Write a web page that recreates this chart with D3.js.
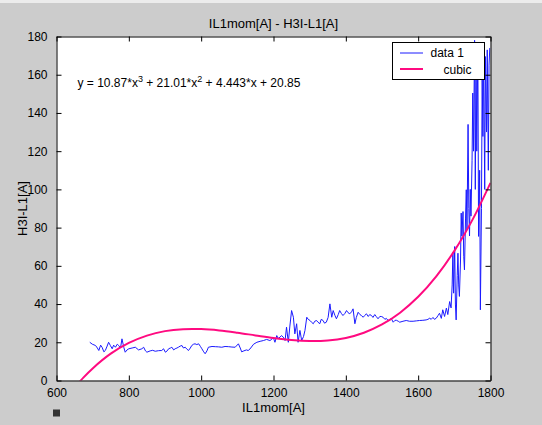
<!DOCTYPE html>
<html><head><meta charset="utf-8">
<script src="https://cdn.jsdelivr.net/npm/d3@7"></script>
<style>
html,body{margin:0;padding:0;background:#cccccc;}
svg{display:block;}
text{font-family:"Liberation Sans",Arial,Helvetica,sans-serif;fill:#000;}
</style></head>
<body>
<script>
// ---- data ----
const dataX = [692,699,708,713,717,722,726,731,735,740,744,749,754,758,763,768,772,777,781,786,790,795,800,809,818,827,836,841,846,850,859,866,873,882,891,896,901,906,910,915,919,924,928,933,937,942,947,951,956,960,965,970,974,979,983,988,993,998,1002,1007,1011,1016,1020,1030,1039,1048,1057,1066,1076,1085,1094,1103,1108,1112,1118,1125,1130,1135,1145,1154,1163,1172,1181,1190,1195,1199,1204,1209,1213,1218,1222,1227,1232,1236,1241,1245,1250,1255,1259,1264,1268,1273,1278,1283,1287,1292,1296,1301,1305,1310,1314,1319,1323,1328,1332,1337,1341,1346,1351,1356,1361,1365,1370,1374,1379,1383,1388,1392,1397,1402,1406,1411,1416,1420,1425,1429,1434,1439,1443,1448,1452,1457,1462,1466,1471,1475,1480,1484,1489,1494,1498,1503,1508,1512,1517,1522,1526,1531,1536,1540,1545,1549,1558,1567,1576,1586,1595,1604,1613,1622,1627,1632,1636,1641,1645,1650,1655,1659,1664,1668,1673,1678,1682,1687,1691,1694,1696,1698,1701,1703,1705,1708,1710,1712,1714,1717,1719,1721,1724,1726,1728,1731,1733,1735,1738,1740,1742,1744,1746,1749,1751,1753,1756,1758,1760,1762,1765,1767,1770,1772,1775,1777,1779,1781,1784,1786,1789,1791,1794,1796,1798];
const dataY = [20.0,19.0,18.3,17.0,15.7,18.5,17.4,15.0,15.7,18.0,20.0,18.3,16.6,18.5,17.4,19.0,18.3,17.0,21.8,17.4,14.8,16.0,16.6,17.0,17.4,16.0,16.6,17.4,15.5,14.8,15.5,15.8,15.3,15.6,15.7,16.6,14.8,15.5,16.6,17.0,17.4,16.0,16.6,17.0,17.4,18.0,18.3,17.0,17.4,16.5,15.7,17.0,18.3,19.0,19.2,18.8,19.2,17.8,16.6,15.0,14.0,15.5,17.4,17.8,17.7,17.6,17.4,17.8,17.7,17.5,17.4,19.2,17.0,15.0,15.5,16.0,15.7,16.5,19.0,20.0,20.5,20.9,21.5,20.9,21.5,22.7,20.0,23.5,22.0,22.7,23.5,22.7,20.9,27.9,20.0,28.0,36.6,33.1,24.4,29.7,20.0,26.2,20.9,23.0,26.2,33.1,32.0,31.4,30.5,29.7,31.0,31.4,30.5,29.7,32.0,31.4,30.0,30.5,33.0,40.1,33.1,36.6,34.0,32.3,34.5,36.6,35.0,34.0,35.0,36.6,35.5,34.9,36.0,37.5,29.7,33.0,35.7,34.5,34.0,33.1,34.0,34.9,33.5,34.5,34.0,33.0,34.5,33.5,32.3,33.5,33.5,33.1,32.0,32.5,31.4,32.0,32.3,30.5,31.5,31.5,31.0,30.5,31.0,31.4,31.0,31.0,31.2,31.4,31.5,31.7,32.0,32.6,32.0,33.0,32.0,32.6,34.0,35.2,32.5,37.0,33.5,37.9,34.5,41.3,38.0,50.0,67.0,45.7,70.1,40.0,31.7,55.0,66.6,50.0,44.0,62.0,87.6,75.6,88.4,65.0,57.9,85.0,99.8,78.8,134.0,90.0,75.6,100.0,86.0,115.0,150.4,120.0,178.0,100.0,170.0,120.0,175.0,75.4,110.0,37.0,90.0,160.0,127.7,170.0,100.0,169.5,130.0,173.0,110.0,165.0,174.0];
// cubic fit, values
const cubicX = [650,675,700,750,800,850,900,950,1000,1050,1100,1150,1200,1250,1300,1350,1400,1450,1500,1550,1600,1650,1700,1750,1800];
const cubicY = [-3.66,1.66,6.34,14.03,19.66,23.50,25.83,26.87,26.91,26.21,25.01,23.60,22.22,21.14,20.62,20.91,22.28,25.00,29.31,35.49,43.79,54.48,67.81,84.04,103.44];
const xTicks = [600,800,1000,1200,1400,1600,1800];
const yTicks = [0,20,40,60,80,100,120,140,160,180];
const legendLabels = ["data 1","cubic"];
const titleText = "IL1mom[A] - H3I-L1[A]";
const xLabel = "IL1mom[A]";
const yLabel = "H3I-L1[A]";
const eqParts = [["y = 10.87*x",""],["3","sup"],[" + 21.01*x",""],["2","sup"],[" + 4.443*x + 20.85",""]];

// ---- chart ----
const W=542,H=425;
const L=56.5,R=490.5,T=36.5,B=380.5;
const svg=d3.select("body").append("svg").attr("width",W).attr("height",H);
svg.append("rect").attr("width",W).attr("height",H).attr("fill","#cccccc");
svg.append("rect").attr("width",W).attr("height",3).attr("fill","#ececec");

const x=d3.scaleLinear().domain([600,1800]).range([L,R]);
const y=d3.scaleLinear().domain([0,180]).range([B,T]);

svg.append("rect").attr("x",L).attr("y",T).attr("width",R-L).attr("height",B-T).attr("fill","#fff");

svg.append("clipPath").attr("id","clip").append("rect").attr("x",L).attr("y",T).attr("width",R-L).attr("height",B-T);
const plot=svg.append("g").attr("clip-path","url(#clip)");

const pts=dataX.map((d,i)=>[d,dataY[i]]);
plot.append("path").attr("d",d3.line().x(d=>x(d[0])).y(d=>y(d[1]))(pts))
  .attr("fill","none").attr("stroke","#1a1aff").attr("stroke-width",1);

const cpts=cubicX.map((d,i)=>[d,cubicY[i]]);
plot.append("path").attr("d",d3.line().curve(d3.curveCatmullRom.alpha(0.5)).x(d=>x(d[0])).y(d=>y(d[1]))(cpts))
  .attr("fill","none").attr("stroke","#ff0a80").attr("stroke-width",2);

// axes (MATLAB-style inward ticks, box)
const tl=5, fmt=d3.format("d");
const axB=svg.append("g").attr("transform",`translate(0,${B})`).call(d3.axisBottom(x).tickValues(xTicks).tickFormat(fmt).tickSizeInner(-tl).tickSizeOuter(0).tickPadding(tl+3));
const axT=svg.append("g").attr("transform",`translate(0,${T})`).call(d3.axisTop(x).tickValues(xTicks).tickSizeInner(-tl).tickSizeOuter(0).tickFormat(""));
const axL=svg.append("g").attr("transform",`translate(${L},0)`).call(d3.axisLeft(y).tickValues(yTicks).tickFormat(fmt).tickSizeInner(-tl).tickSizeOuter(0).tickPadding(tl+4));
const axR=svg.append("g").attr("transform",`translate(${R},0)`).call(d3.axisRight(y).tickValues(yTicks).tickSizeInner(-tl).tickSizeOuter(0).tickFormat(""));
[axB,axT,axL,axR].forEach(a=>{
  a.selectAll("path,line").attr("stroke","#000").attr("stroke-width",1);
  a.selectAll("text").attr("font-family","Liberation Sans, Arial, sans-serif").attr("font-size",12).attr("fill","#000");
});

// title & labels
svg.append("text").attr("x",(L+R)/2).attr("y",28).attr("text-anchor","middle").attr("font-size",13).text(titleText);
svg.append("text").attr("x",(L+R)/2).attr("y",412).attr("text-anchor","middle").attr("font-size",13).text(xLabel);
svg.append("text").attr("transform",`translate(27,${(T+B)/2}) rotate(-90)`).attr("text-anchor","middle").attr("font-size",13).text(yLabel);

// equation
const eq=svg.append("text").attr("x",77.5).attr("y",86.5).attr("font-size",12);
eqParts.forEach((p,i)=>{
  const ts=eq.append("tspan").text(p[0]);
  if(p[1]==="sup") ts.attr("font-size",9).attr("dy",-5);
  else if(i>0) ts.attr("dy",5);
});

// legend
const lg=svg.append("g");
lg.append("rect").attr("x",392.5).attr("y",42.5).attr("width",92).attr("height",37).attr("fill","#fff").attr("stroke","#000");
const lcol=["#1a1aff","#ff0a80"], lw=[1,2], ly=[53,69];
legendLabels.forEach((t,i)=>{
  lg.append("line").attr("x1",400).attr("x2",423).attr("y1",ly[i]).attr("y2",ly[i]).attr("stroke",lcol[i]).attr("stroke-width",lw[i]);
});
lg.append("text").attr("x",430.5).attr("y",57).attr("font-size",12).text(legendLabels[0]);
lg.append("text").attr("x",443.5).attr("y",73.5).attr("font-size",12).text(legendLabels[1]);

// small marker square bottom-left
svg.append("rect").attr("x",53).attr("y",409.5).attr("width",7).attr("height",7).attr("fill","#333");
</script>
</body></html>
